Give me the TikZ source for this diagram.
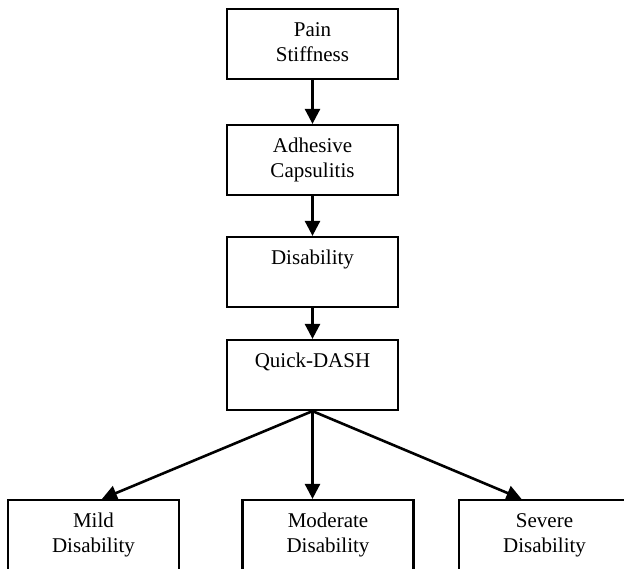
\documentclass[tikz,border=0pt]{standalone}
\usepackage{fontspec}
\setmainfont{Liberation Serif}
\usetikzlibrary{arrows.meta}
\newcommand\bstr{\rule[-5pt]{0pt}{20pt}}
\begin{document}
\begin{tikzpicture}[x=1pt,y=-1pt,
  box/.style={draw,line width=2.2pt,minimum width=171pt,minimum height=70pt,inner sep=0pt,align=center,
    font=\fontsize{21}{25}\selectfont},
  arr/.style={line width=2.6pt,-{Triangle[width=15pt,length=15pt]}}]
\useasboundingbox (0,0) rectangle (624,569);
\node[box] (b1) at (312.5,44) {\bstr Pain\\\bstr Stiffness};
\node[box] (b2) at (312.5,160) {\bstr Adhesive\\\bstr Capsulitis};
\node[box] (b3) at (312.5,272) {\bstr Disability\\\bstr};
\node[box] (b4) at (312.5,375) {\bstr Quick-DASH\\\bstr};
\node[box] (mild) at (93.5,535) {\bstr Mild\\\bstr Disability};
\node[box] (mod) at (328,535) {\bstr Moderate\\\bstr Disability};
\node[box] (sev) at (544.5,535) {\bstr Severe\\\bstr Disability};
\draw[arr] (b1) -- (b2);
\draw[arr] (b2) -- (b3);
\draw[arr] (b3) -- (b4);
\draw[arr] (b4.south) -- ([xshift=8.5pt]mild.north);
\draw[arr] (b4.south) -- (b4.south |- mod.north);
\draw[arr] (b4.south) -- ([xshift=-23pt]sev.north);
\end{tikzpicture}
\end{document}
